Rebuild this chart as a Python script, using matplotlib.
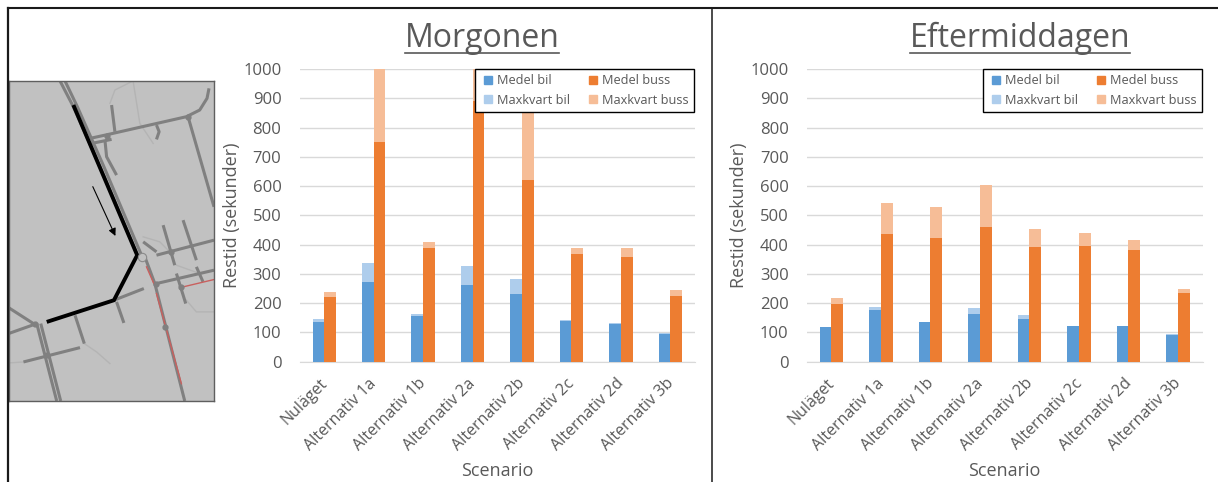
import matplotlib
matplotlib.use("Agg")
import matplotlib.pyplot as plt
from matplotlib.lines import Line2D
from matplotlib.transforms import ScaledTranslation
import numpy as np

W, H = 1218, 482
plt.rcParams['font.family'] = ['Open Sans', 'DejaVu Sans']

scenarios = ["Nuläget", "Alternativ 1a", "Alternativ 1b", "Alternativ 2a",
             "Alternativ 2b", "Alternativ 2c", "Alternativ 2d", "Alternativ 3b"]
morgon_medel_bil = [135, 272, 155, 262, 232, 138, 128, 93]
morgon_max_bil = [147, 338, 163, 328, 284, 143, 132, 99]
morgon_medel_buss = [222, 751, 388, 889, 622, 367, 356, 225]
morgon_max_buss = [238, 1000, 408, 1000, 950, 388, 388, 244]
efter_medel_bil = [117, 177, 135, 163, 147, 121, 121, 92]
efter_max_bil = [118, 187, 136, 184, 160, 122, 122, 93]
efter_medel_buss = [198, 437, 424, 460, 393, 396, 382, 234]
efter_max_buss = [217, 541, 528, 604, 454, 440, 416, 250]
yticks = list(range(0, 1001, 100))
legend_labels = ["Medel bil", "Maxkvart bil", "Medel buss", "Maxkvart buss"]

BLUE, LBLUE, ORANGE, LORANGE = "#5B9BD5", "#AECDEC", "#ED7D31", "#F6BD97"
TXT = "#595959"
GRID = "#D9D9D9"

# Map schematic polylines (in map-local units)
roads = [[(180,63),(220,140),(300,320),(415,590)], [(195,63),(232,140),(312,320),(425,585)],
         [(270,235),(330,222),(560,170),(600,150),(622,115),(628,85)], [(335,135),(345,215)],
         [(275,250),(335,238)], [(565,170),(643,440)], [(315,240),(320,290),(350,345)],
         [(470,195),(478,215),(470,238)], [(470,585),(643,540)], [(490,495),(525,615)],
         [(550,480),(590,600)], [(530,640),(558,730)], [(590,620),(610,665)],
         [(470,670),(643,630)], [(435,590),(465,670),(555,1022)], [(430,545),(470,575)],
         [(342,720),(432,685)], [(350,725),(372,788)], [(25,742),(100,790)], [(25,820),(110,790)],
         [(110,790),(170,1022)], [(122,790),(182,1022)], [(70,905),(240,862)], [(225,765),(253,850)]]
faint = [[(253,850),(290,875),(330,910)], [(25,908),(70,905)], [(330,130),(345,90),(395,65)],
         [(400,65),(420,190),(460,250)], [(430,530),(480,545),(520,585)],
         [(530,615),(600,640)], [(560,720),(590,755),(643,755)]]
red = [[(440,620),(462,670)], [(470,700),(545,970)], [(550,680),(643,658)]]
route = [(220,135),(412,585),(342,720),(140,785)]
nodes = [(105,790),(140,885),(470,670),(545,680),(515,575),(495,800),(565,170),(320,228)]

def px_axes(fig, l, t, r, b):
    return fig.add_axes([l / W, 1 - b / H, (r - l) / W, (b - t) / H])

fig = plt.figure(figsize=(W / 100, H / 100), dpi=100, facecolor="white")

# Frame
for xs, ys, lw in [((8, W), (8, 8), 1.5), ((8, 8), (8, H), 1.6), ((712, 712), (8, H), 1.1)]:
    fig.add_artist(Line2D([x / W for x in xs], [1 - y / H for y in ys], color="#1a1a1a", lw=lw))

# Map
m = px_axes(fig, 8.5, 81, 214, 401)
m.set_xlim(25, 643); m.set_ylim(1022, 63)
m.set_facecolor("#C1C1C1")
m.set_xticks([]); m.set_yticks([])
for s in m.spines.values():
    s.set_color("#5f5f5f"); s.set_linewidth(1)
for p in faint:
    m.plot(*zip(*p), color="#B4B4B4", lw=1.0)
for p in roads:
    m.plot(*zip(*p), color="#808080", lw=2.2, solid_capstyle="butt")
for p in red:
    m.plot(*zip(*p), color="#C9605E", lw=1.0)
m.plot(*zip(*nodes), ls="none", marker="o", ms=3.5, color="#808080")
m.plot(*zip(*route), color="black", lw=2.8, solid_joinstyle="miter", solid_capstyle="butt")
m.plot([425], [590], marker="o", ms=6, mfc="#C1C1C1", mec="#8a8a8a", mew=0.8)
m.annotate("", xy=(350, 535), xytext=(275, 372),
           arrowprops=dict(arrowstyle="-|>", color="black", lw=0.8, mutation_scale=11))

def panel(l, r, title, tcx, mb, xb, mr, xr, leg_l, leg_r):
    ax = px_axes(fig, l, 69, r, 361.7)
    x = np.arange(len(scenarios))
    w = 0.237
    ax.bar(x - w / 2, xb, w, color=LBLUE, zorder=2)
    ax.bar(x + w / 2, xr, w, color=LORANGE, zorder=2)
    ax.bar(x - w / 2, mb, w, color=BLUE, zorder=3)
    ax.bar(x + w / 2, mr, w, color=ORANGE, zorder=3)
    ax.set_xlim(-0.5, len(scenarios) - 0.5)
    ax.set_ylim(0, 1000)
    ax.set_yticks(yticks)
    ax.grid(axis="y", color=GRID, lw=1, zorder=0)
    ax.set_axisbelow(True)
    for k in ("top", "left", "right"):
        ax.spines[k].set_visible(False)
    ax.spines["bottom"].set_color(GRID)
    ax.tick_params(axis="both", length=0, colors=TXT)
    ax.tick_params(axis="y", labelsize=12, pad=13)
    ax.set_xticks(x)
    ax.set_xticklabels(scenarios, rotation=45, ha="right", va="top",
                       rotation_mode="anchor", fontsize=11.5, color=TXT)
    ax.tick_params(axis="x", pad=10)
    shift = ScaledTranslation(-5 / 100, 0, fig.dpi_scale_trans)
    for lab in ax.get_xticklabels():
        lab.set_transform(lab.get_transform() + shift)
    cx = (l + r) / 2
    fig.text(cx / W, 1 - 471 / H, "Scenario", ha="center", va="center", fontsize=13, color=TXT)
    fig.text((l - 67.5) / W, 1 - 215 / H, "Restid (sekunder)", rotation=90, ha="center",
             va="center", fontsize=13, color=TXT)
    t = fig.text(tcx / W, 1 - 38.5 / H, title, ha="center", va="center", fontsize=23, color=TXT)
    fig.canvas.draw()
    bb = t.get_window_extent()
    fig.add_artist(Line2D([bb.x0 / W, bb.x1 / W], [1 - 52.5 / H] * 2, color=TXT, lw=1.2))
    handles = [Line2D([], [], ls="none", marker="s", ms=6, color=c) for c in (BLUE, LBLUE, ORANGE, LORANGE)]
    bx = (leg_l - l) / (r - l)
    bw = (leg_r - leg_l) / (r - l)
    lg = ax.legend(handles, legend_labels, ncol=2, loc="upper left",
                   bbox_to_anchor=(bx, 0.8645, bw, 0.137), mode="expand", fontsize=9.2,
                   frameon=True, fancybox=False, framealpha=1, edgecolor="black",
                   labelcolor=TXT, handlelength=1.2, handleheight=0.7, handletextpad=0.1,
                   borderaxespad=0, borderpad=0.45, labelspacing=0.5, columnspacing=0.6)
    lg.get_frame().set_linewidth(1)
    lg.set_zorder(10)

panel(299.5, 695, "Morgonen", 482, morgon_medel_bil, morgon_max_bil, morgon_medel_buss, morgon_max_buss, 475, 694)
panel(806.7, 1202.7, "Eftermiddagen", 1020, efter_medel_bil, efter_max_bil, efter_medel_buss, efter_max_buss, 982.5, 1202)

fig.savefig("out.png", dpi=100, facecolor="white")
